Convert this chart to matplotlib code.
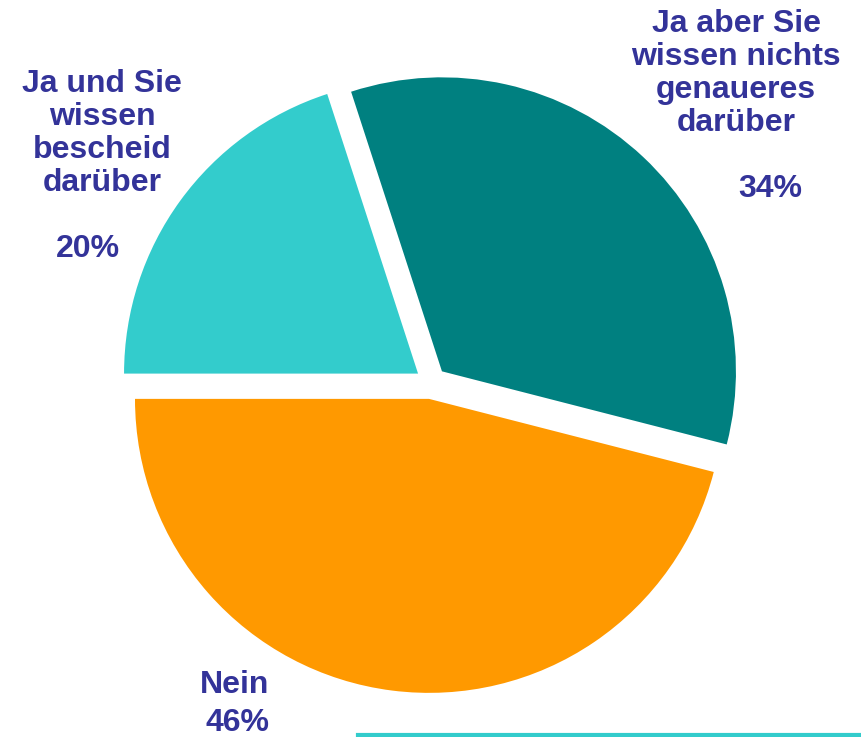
import matplotlib
matplotlib.use("Agg")
import matplotlib.pyplot as plt
from matplotlib.lines import Line2D

# data
labels = ["Ja und Sie\nwissen\nbescheid\ndarüber",
          "Ja aber Sie\nwissen nichts\ngenaueres\ndarüber",
          "Nein"]
shares = [20, 34, 46]
colors = ["#33CCCC", "#008080", "#FF9900"]

W, H = 861, 737
cx, cy, R = 431, 383, 294   # pie centre / radius in pixels
txt_color = "#333399"

fig = plt.figure(figsize=(W / 100, H / 100), dpi=100)
ax = fig.add_axes([0, 0, 1, 1])

ax.pie(shares, colors=colors, startangle=180, counterclock=False,
       explode=[16 / R] * 3, radius=1, center=(0, 0),
       wedgeprops=dict(linewidth=0))
ax.set_xlim(-cx / R, (W - cx) / R)
ax.set_ylim(-(H - cy) / R, cy / R)
ax.set_aspect("equal", adjustable="datalim")
ax.axis("off")


def put(text, x, y0, step=33):
    # one text per line, y0 = baseline of first line (pixels from top)
    for i, line in enumerate(text.split("\n")):
        fig.text(x / W, 1 - (y0 + i * step) / H, line, ha="center",
                 va="baseline", fontsize=23, fontweight="bold",
                 family="Liberation Sans", color=txt_color)


# label blocks: (x centre, first baseline), percent: (x centre, baseline)
put(labels[0], 102, 92)
put(f"{shares[0]}%", 88, 257)
put(labels[1], 736, 32)
put(f"{shares[1]}%", 770, 197)
put(labels[2], 235, 693)
put(f"{shares[2]}%", 237, 731)

# teal rule at the bottom
fig.add_artist(Line2D([358 / W, 1], [1 - 735 / H] * 2, color="#33CCCC",
                      linewidth=3, transform=fig.transFigure))

fig.savefig("out.png", dpi=100)
